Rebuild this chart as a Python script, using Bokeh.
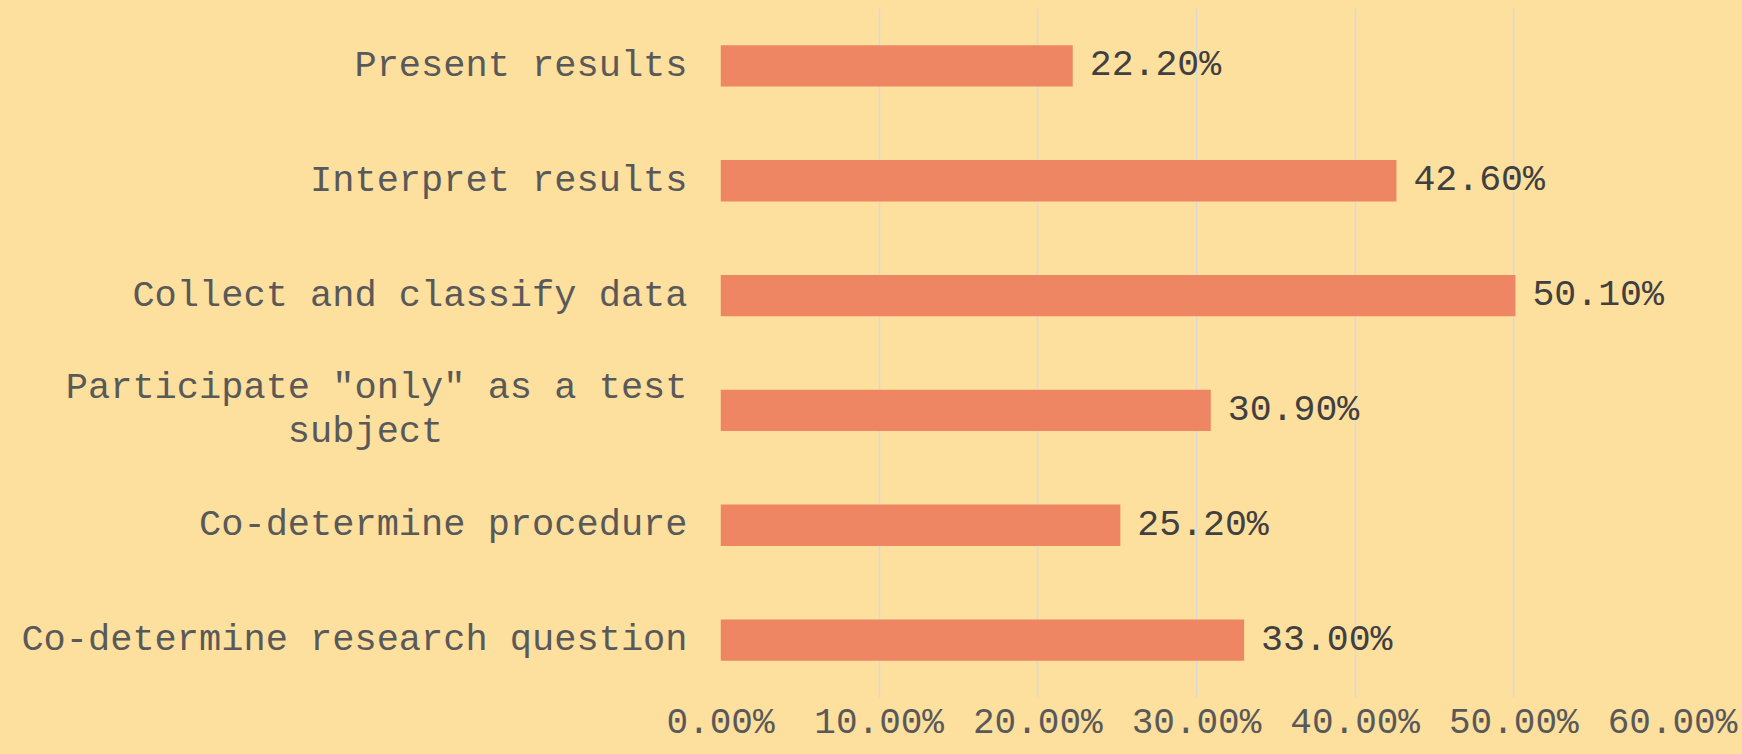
from bokeh.plotting import figure
from bokeh.models import ColumnDataSource, Range1d, FixedTicker, PrintfTickFormatter
from bokeh.core.properties import value
from bokeh.embed import file_html
from bokeh.resources import INLINE

# Data (bottom to top)
categories = [
    "Co-determine research question",
    "Co-determine procedure",
    'Participate "only" as a test\nsubject' + "\u00a0" * 11,
    "Collect and classify data",
    "Interpret results",
    "Present results",
]
values = [33.0, 25.2, 30.9, 50.1, 42.6, 22.2]
x_ticks = [0, 10, 20, 30, 40, 50, 60]

BG = "#FDDF9E"
BAR = "#EE8663"
FONT = "Liberation Mono"

labels = [f"{v:.2f}%" for v in values]
src = ColumnDataSource(dict(cat=categories, val=values, lab=labels))

p = figure(
    y_range=categories,
    x_range=Range1d(0, 60),
    width=1742, height=754,
    output_backend="svg", toolbar_location=None,
    min_border_left=720, min_border_right=70,
    min_border_top=8, min_border_bottom=57,
)
p.background_fill_color = BG
p.border_fill_color = BG
p.outline_line_color = None

p.hbar(y="cat", right="val", left=0, height=0.36, source=src,
       fill_color=BAR, line_color=None)

p.text(x="val", y="cat", text="lab", source=src, x_offset=17,
       text_align="left", text_baseline="middle",
       text_font=value(FONT), text_font_size="36.5px", text_color="#404040")

# axes
p.xaxis.ticker = FixedTicker(ticks=x_ticks)
p.xaxis.formatter = PrintfTickFormatter(format="%.2f%%")
p.xaxis.axis_line_color = None
p.xaxis.major_tick_line_color = None
p.xaxis.minor_tick_line_color = None
p.xaxis.major_tick_out = 0
p.xaxis.major_label_standoff = 5
p.xaxis.major_label_text_font = FONT
p.xaxis.major_label_text_font_size = "36px"
p.xaxis.major_label_text_color = "#595959"

p.yaxis.axis_line_color = None
p.yaxis.major_tick_line_color = None
p.yaxis.minor_tick_line_color = None
p.yaxis.major_tick_out = 0
p.yaxis.major_label_standoff = 33
p.yaxis.major_label_text_font = FONT
p.yaxis.major_label_text_font_size = "37px"
p.yaxis.major_label_text_color = "#595959"
p.yaxis.major_label_text_line_height = 1.05

p.ygrid.grid_line_color = None
p.xgrid.grid_line_color = "#D9D9D9"
p.xgrid.grid_line_width = 1.5

html = file_html(p, INLINE)
style = ("<style>html, body { margin: 0; padding: 0; overflow: hidden; "
         "background-color: %s; }</style>" % BG)
html = html.replace("</head>", style + "</head>", 1)
open("out.html", "w").write(html)
